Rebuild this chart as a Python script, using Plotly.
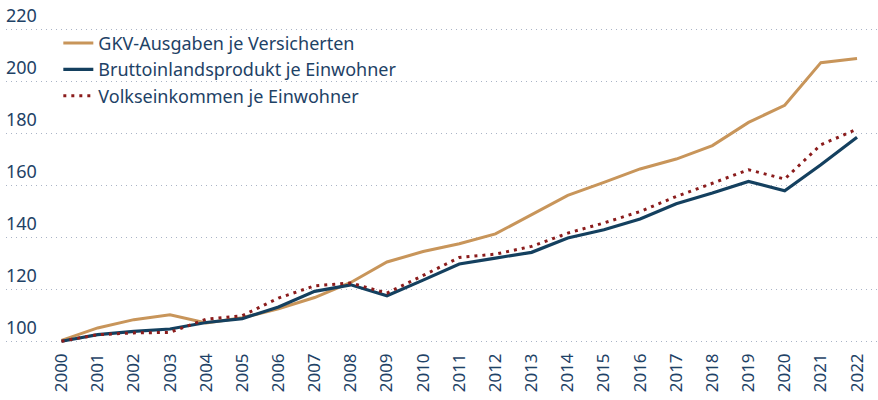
import plotly.graph_objects as go

years = list(range(2000, 2023))
gkv = [100.3, 105.1, 108.3, 110.2, 107.0, 109.0, 112.5, 116.8, 122.6, 130.5, 134.5, 137.5,
       141.3, 148.7, 156.1, 161.1, 166.3, 170.1, 175.3, 184.2, 190.8, 207.2, 208.8]
bip = [100.0, 102.5, 103.8, 104.7, 107.2, 108.7, 113.2, 119.2, 121.7, 117.5, 123.5, 129.7,
       132.0, 134.2, 139.7, 142.9, 147.0, 152.9, 157.0, 161.5, 157.9, 167.9, 178.5]
vek = [100.0, 102.5, 103.2, 103.4, 108.5, 109.8, 116.6, 121.3, 122.4, 118.5, 125.3, 132.2,
       133.5, 136.5, 141.6, 145.5, 149.9, 155.7, 160.8, 166.0, 162.4, 175.6, 181.6]
y_ticks = [100, 120, 140, 160, 180, 200, 220]

TXT = "#1e4266"
FONT = "Noto Sans"

fig = go.Figure()
fig.add_trace(go.Scatter(x=years, y=gkv, mode="lines", name="GKV-Ausgaben je Versicherten",
                         line=dict(color="#c8955a", width=3)))
fig.add_trace(go.Scatter(x=years, y=bip, mode="lines", name="Bruttoinlandsprodukt je Einwohner",
                         line=dict(color="#14405f", width=3.2)))
fig.add_trace(go.Scatter(x=years, y=vek, mode="lines", name="Volkseinkommen je Einwohner",
                         line=dict(color="#8b1c1c", width=3, dash="3px,5px")))

for t in y_ticks:
    fig.add_annotation(x=0, xref="paper", y=t, yref="y", text=str(t), showarrow=False,
                       xanchor="left", yanchor="bottom", xshift=-2, yshift=0,
                       font=dict(size=18, color=TXT, family=FONT))

fig.update_layout(
    width=878, height=400,
    margin=dict(l=6, r=0, t=6, b=51, autoexpand=False),
    plot_bgcolor="white", paper_bgcolor="white",
    font=dict(family=FONT, color=TXT, size=18),
    showlegend=True,
    legend=dict(x=0.06, y=0.945, xanchor="left", yanchor="top",
                bgcolor="rgba(0,0,0,0)", font=dict(size=18, color=TXT),
                tracegroupgap=0, itemwidth=30),
    xaxis=dict(range=[1998.465, 2022.58], tickmode="array", tickvals=years,
               ticktext=[str(y) for y in years], tickangle=-90, showgrid=False,
               zeroline=False, showline=False, ticks="", automargin=False,
               tickfont=dict(size=17, color=TXT)),
    yaxis=dict(range=[97, 229], tickmode="array", tickvals=y_ticks,
               showticklabels=False,
               showgrid=True, gridcolor="#aab4c6", automargin=False,
               griddash="1px,4px", gridwidth=1, zeroline=False, showline=False, ticks=""),
)

fig.write_html("out.html", config={"displayModeBar": False},
               post_script="document.body.style.margin='0px';")
